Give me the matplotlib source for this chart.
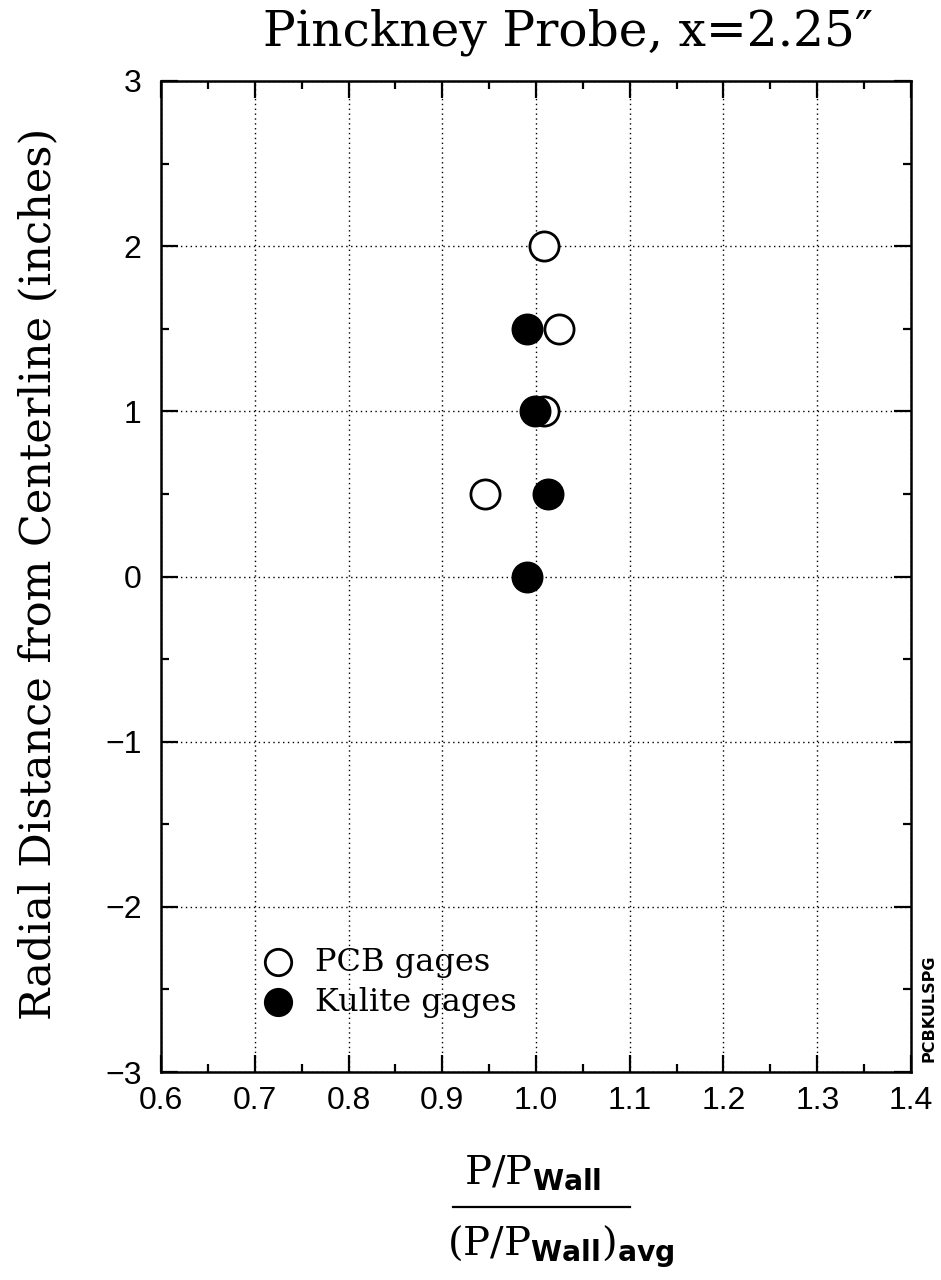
import matplotlib
matplotlib.use("Agg")
import matplotlib.pyplot as plt
from matplotlib.lines import Line2D
from matplotlib.ticker import MultipleLocator

plt.rcParams["mathtext.fontset"] = "custom"
plt.rcParams["mathtext.rm"] = "DejaVu Serif"
plt.rcParams["mathtext.bf"] = "DejaVu Sans:bold"

# Normalized pressure vs. radial position of each gage
pcb_ratio = [1.008, 1.024, 1.008, 0.946]
pcb_radius = [2.0, 1.5, 1.0, 0.5]
kulite_ratio = [0.990, 0.999, 1.013, 0.990]
kulite_radius = [1.5, 1.0, 0.5, 0.0]

x_ticks = [0.6, 0.7, 0.8, 0.9, 1.0, 1.1, 1.2, 1.3, 1.4]
x_ticklabels = ["0.6", "0.7", "0.8", "0.9", "1.0", "1.1", "1.2", "1.3", "1.4"]
y_ticks = [-3, -2, -1, 0, 1, 2, 3]
y_ticklabels = ["\u22123", "\u22122", "\u22121", "0", "1", "2", "3"]

fig = plt.figure(figsize=(9.41, 12.8), dpi=100)
ax = fig.add_axes([161 / 941, 1 - 1072 / 1280, 750 / 941, 991 / 1280])

ax.set_xlim(0.6, 1.4)
ax.set_ylim(-3, 3)

ax.xaxis.set_major_locator(MultipleLocator(0.1))
ax.xaxis.set_minor_locator(MultipleLocator(0.05))
ax.yaxis.set_major_locator(MultipleLocator(1))
ax.yaxis.set_minor_locator(MultipleLocator(0.5))
ax.set_xticks(x_ticks)
ax.set_xticklabels(x_ticklabels)
ax.set_yticks(y_ticks)
ax.set_yticklabels(y_ticklabels)

ax.grid(True, which="major", color="black", linestyle=(0, (1, 2.5)), linewidth=1.0)
ax.tick_params(which="both", direction="in", top=True, right=True, width=1.6, color="black")
ax.tick_params(which="major", length=12, labelsize=23)
ax.tick_params(axis="x", which="major", pad=10)
ax.tick_params(axis="y", which="major", pad=14)
ax.tick_params(which="minor", length=6)
for lab in ax.get_xticklabels() + ax.get_yticklabels():
    lab.set_fontfamily("Liberation Sans")
for sp in ax.spines.values():
    sp.set_linewidth(1.8)

ax.plot(pcb_ratio, pcb_radius, linestyle="none", marker="o", markersize=21,
        markerfacecolor="white", markeredgecolor="black", markeredgewidth=2.0, zorder=3)
ax.plot(kulite_ratio, kulite_radius, linestyle="none", marker="o", markersize=22,
        markerfacecolor="black", markeredgecolor="black", markeredgewidth=1.0, zorder=4)

# Legend drawn as markers and labels inside the axes
ax.plot([0.6 + (278 - 161) / 937.5], [3 - (962 - 81) / 165.2], marker="o", markersize=19,
        markerfacecolor="white", markeredgecolor="black", markeredgewidth=2.0,
        linestyle="none", clip_on=False, zorder=5)
ax.plot([0.6 + (278 - 161) / 937.5], [3 - (1002 - 81) / 165.2], marker="o", markersize=20,
        markerfacecolor="black", markeredgecolor="black", linestyle="none",
        clip_on=False, zorder=5)
fig.text(315 / 941, 1 - 962 / 1280, "PCB gages", fontsize=23, family="DejaVu Serif",
         va="center", ha="left")
fig.text(315 / 941, 1 - 1002 / 1280, "Kulite gages", fontsize=23, family="DejaVu Serif",
         va="center", ha="left")

fig.text(929 / 941, 1 - 1008 / 1280, "PCBKULSPG", rotation=90, fontsize=11.5,
         fontweight="bold", family="DejaVu Sans", ha="center", va="center")

fig.text(568 / 941, 1 - 32 / 1280, "Pinckney Probe, x=2.25\u2033", fontsize=35,
         family="DejaVu Serif", ha="center", va="center")

fig.text(38 / 941, 1 - 574 / 1280, "Radial Distance from Centerline (inches)", fontsize=31,
         family="DejaVu Serif", rotation=90, ha="center", va="center")

# Fraction-style x-axis label
fig.text(533 / 941, 1 - 1172 / 1280, r"$\mathrm{P/P}_{\mathbf{Wall}}$", fontsize=29,
         ha="center", va="center")
fig.add_artist(Line2D([453 / 941, 630 / 941], [1 - 1207 / 1280, 1 - 1207 / 1280],
                      color="black", linewidth=1.6))
fig.text(561 / 941, 1 - 1247 / 1280, r"$(\mathrm{P/P}_{\mathbf{Wall}})_{\mathbf{avg}}$",
         fontsize=29, ha="center", va="center")

fig.savefig("out.png", dpi=100)
